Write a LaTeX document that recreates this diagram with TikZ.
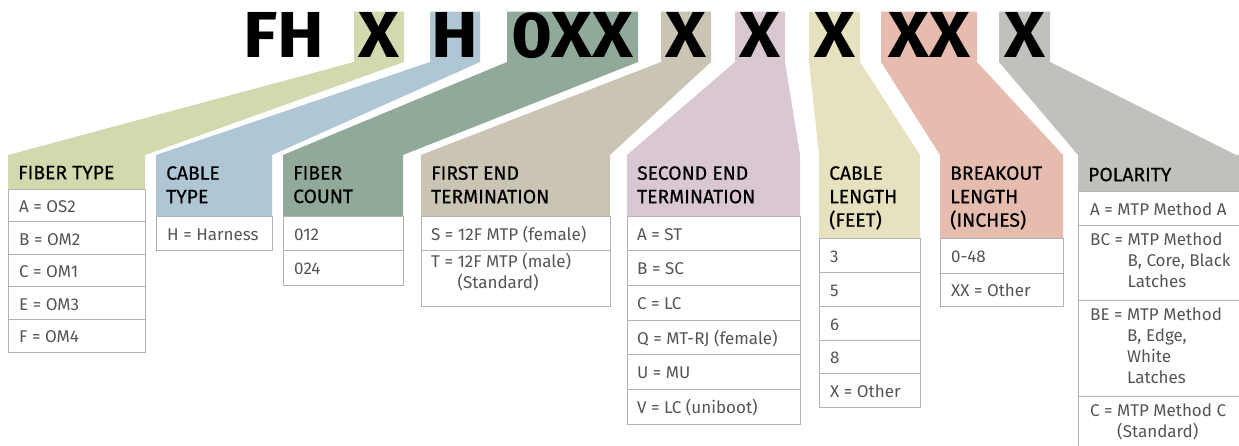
\documentclass[tikz,border=0pt]{standalone}
\usepackage{fontspec}
\setmainfont{Fira Sans}
\newfontfamily\lightfam{Fira Sans}
\newfontfamily\medfam{Fira Sans}[FakeBold=0.5]
\newfontfamily\bigfam{Fira Sans}[FakeStretch=1.08]
\definecolor{cA}{HTML}{D2D9AE}
\definecolor{cB}{HTML}{AFC6D4}
\definecolor{cC}{HTML}{90A999}
\definecolor{cD}{HTML}{CAC4B5}
\definecolor{cE}{HTML}{D9C7D3}
\definecolor{cF}{HTML}{E6E2BF}
\definecolor{cG}{HTML}{E6BCAF}
\definecolor{cH}{HTML}{BFC1BB}
\definecolor{rowgray}{HTML}{555555}
\definecolor{bordergray}{HTML}{B3B3B3}
\newcommand\fillband[6]{\fill[#1] (#2,11.5) -- (#3,11.5) -- (#3,62) -- (#5,155) -- (#5,#6) -- (#4,#6) -- (#4,155) -- (#2,62) -- cycle;}
\newcommand\rowbox[4]{\draw[rowbox] (#1,#3) rectangle (#2,#4);}
\newcommand\hd[4]{\node[hdr] (#1) at (#2,#3-16) {#4};}
\newcommand\rt[4]{\node[rowtxt] (#1) at (#2,#3-15) {#4};}
\begin{document}
\begin{tikzpicture}[x=1pt,y=-1pt,
  hdr/.style={anchor=north west, inner sep=0pt, align=left, text=black,
    font=\medfam\fontsize{19.3}{23.5}\selectfont, execute at begin node={\rule{0pt}{16pt}}},
  rowtxt/.style={anchor=north west, inner sep=0pt, align=left, text=rowgray,
    font=\lightfam\fontsize{17}{21}\selectfont, execute at begin node={\rule{0pt}{15pt}}},
  rowbox/.style={draw=bordergray, fill=white, line width=1pt},
  big/.style={anchor=base, inner sep=0pt, font=\bigfam\bfseries\fontsize{65}{65}\selectfont, text=black}]
\useasboundingbox (0,0) rectangle (1239,445);
\clip (0,0) rectangle (1239,445);
% bands
\fillband{cA}{354}{404}{8}{145}{189}
\fillband{cB}{430}{480}{156}{272}{216}
\fillband{cC}{507}{638}{283}{403}{216}
\fillband{cD}{661}{711}{421}{610}{216}
\fillband{cE}{735}{785}{627}{800}{216}
\fillband{cF}{809}{860}{819}{920}{238}
\fillband{cG}{881}{977}{940}{1063}{238}
\fill[cH] (999,11.5) -- (1050,11.5) -- (1050,62) -- (1236,155) -- (1250,155) -- (1250,191) -- (1078,191) -- (1078,155) -- (999,62) -- cycle;
% big code letters
\node[big] (bFH) at (284,57) {FH};
\node[big] (bA) at (379,57) {X};
\node[big] (bB) at (455,57) {H};
\node[big] (bC) at (572.5,57) {0XX};
\node[big] (bD) at (686,57) {X};
\node[big] (bE) at (760,57) {X};
\node[big] (bF) at (834.5,57) {X};
\node[big] (bG) at (929,57) {XX};
\node[big] (bH) at (1024.5,57) {X};
% headers
\hd{h1}{18}{179}{FIBER TYPE}
\hd{h2}{166}{182}{CABLE\\TYPE}
\hd{h3}{293}{182}{FIBER\\COUNT}
\hd{h4}{431}{182}{FIRST END\\TERMINATION}
\hd{h5}{637}{182}{SECOND END\\TERMINATION}
\hd{h6}{829}{182}{CABLE\\LENGTH\\(FEET)}
\hd{h7}{950}{182}{BREAKOUT\\LENGTH\\(INCHES)}
\hd{h8}{1088}{181}{POLARITY}
% column 1
\rowbox{8}{145}{189}{221.6}\rowbox{8}{145}{221.6}{254.2}\rowbox{8}{145}{254.2}{286.8}
\rowbox{8}{145}{286.8}{319.4}\rowbox{8}{145}{319.4}{352}
\rt{a1}{19}{212.5}{A = OS2}
\rt{a2}{19}{245}{B = OM2}
\rt{a3}{19}{277.5}{C = OM1}
\rt{a4}{19}{310}{E = OM3}
\rt{a5}{19}{342.5}{F = OM4}
% column 2
\rowbox{156}{272}{216}{250}
\rt{b1}{167}{240}{H = Harness}
% column 3
\rowbox{283}{403}{216}{250.5}\rowbox{283}{403}{250.5}{285}
\rt{c1}{294}{240}{012}
\rt{c2}{294}{274.5}{024}
% column 4
\rowbox{421}{610}{216}{250}\rowbox{421}{610}{250}{306}
\rt{d1}{431}{240}{S = 12F MTP (female)}
\rt{d2}{431}{267.5}{T = 12F MTP (male)\\\phantom{T = }(Standard)}
% column 5
\rowbox{627}{800}{216}{250}\rowbox{627}{800}{250}{285}\rowbox{627}{800}{285}{320}
\rowbox{627}{800}{320}{354}\rowbox{627}{800}{354}{389}\rowbox{627}{800}{389}{424}
\rt{e1}{637}{240}{A = ST}
\rt{e2}{637}{274.5}{B = SC}
\rt{e3}{637}{309.5}{C = LC}
\rt{e4}{637}{344}{Q = MT-RJ (female)}
\rt{e5}{637}{378.5}{U = MU}
\rt{e6}{637}{413.5}{V = LC (uniboot)}
% column 6
\rowbox{819}{920}{238}{272.7}\rowbox{819}{920}{272.7}{306}\rowbox{819}{920}{306}{340}
\rowbox{819}{920}{340}{373}\rowbox{819}{920}{373}{407}
\rt{f1}{830}{262}{3}
\rt{f2}{830}{296}{5}
\rt{f3}{830}{330}{6}
\rt{f4}{830}{363.5}{8}
\rt{f5}{830}{397}{X = Other}
% column 7
\rowbox{940}{1063}{238}{273}\rowbox{940}{1063}{273}{306}
\rt{g1}{951}{262}{0-48}
\rt{g2}{951}{296}{XX = Other}
% column 8
\rowbox{1078}{1250}{191}{225}\rowbox{1078}{1250}{225}{300}
\rowbox{1078}{1250}{300}{396}\rowbox{1078}{1250}{396}{460}
\rt{p1}{1090}{215}{A = MTP Method A}
\rt{p2}{1090}{248}{BC = MTP Method\\\phantom{BC = }B, Core, Black\\\phantom{BC = }Latches}
\rt{p3}{1090}{323}{BE = MTP Method\\\phantom{BE = }B, Edge,\\\phantom{BE = }White\\\phantom{BE = }Latches}
\rt{p4}{1090}{419}{C = MTP Method C\\\phantom{C = }(Standard)}
\end{tikzpicture}
\end{document}
